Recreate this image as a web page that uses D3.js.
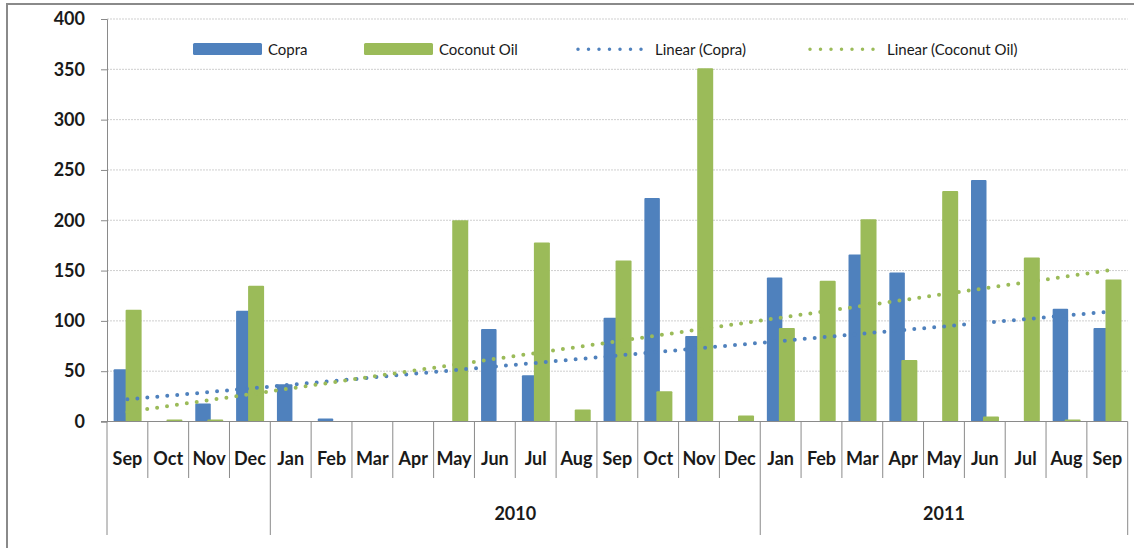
<!DOCTYPE html>
<html>
<head>
<meta charset="utf-8">
<script src="https://cdn.jsdelivr.net/npm/d3@7"></script>
<style>
  body { margin: 0; background: #fff; }
  text { font-family: Lato, "Open Sans", sans-serif; fill: #1a1a1a; }
</style>
</head>
<body>
<svg id="chart"></svg>
<script>
// months on the category axis, Sep 2009 .. Sep 2011
const months = ["Sep","Oct","Nov","Dec","Jan","Feb","Mar","Apr","May","Jun","Jul","Aug",
                "Sep","Oct","Nov","Dec","Jan","Feb","Mar","Apr","May","Jun","Jul","Aug","Sep"];
// year groups under the months
const yearLabels = ["", "2010", "2011"];
const yearSpans = [4, 12, 9];

const copra = [52,0,18,110,37,3,0,0,0,92,46,0,103,222,85,0,143,0,166,148,0,240,0,112,93];
const coconutOil = [111,2,2,135,0,0,0,0,200,0,178,12,160,30,351,6,93,140,201,61,229,5,163,2,141];

// linear trend lines: value at first and last month
const copraTrend = [22, 109];
const oilTrend = [9.5, 150];

const yTicks = [0, 50, 100, 150, 200, 250, 300, 350, 400];

const blue = "#4F81BD";
const green = "#9BBB59";

const width = 1134;
const height = 548;
const margin = { top: 19, right: 6.3, bottom: 126.5, left: 107 };

const svg = d3.select("#chart")
  .attr("width", width)
  .attr("height", height);

// outer frame
svg.append("path")
  .attr("d", `M7,${height + 5}V4H${width + 5}`)
  .attr("fill", "none")
  .attr("stroke", "#8a8a8a")
  .attr("stroke-width", 2);

const keys = months.map((m, i) => i);

const x = d3.scaleBand()
  .domain(keys)
  .range([margin.left, width - margin.right])
  .padding(0);

const y = d3.scaleLinear()
  .domain([0, 400])
  .range([height - margin.bottom, margin.top]);

const y0 = y(0);
const bw = x.bandwidth();

// gridlines
svg.append("g")
  .selectAll("line")
  .data(yTicks.slice(1))
  .join("line")
  .attr("x1", margin.left)
  .attr("x2", width - margin.right)
  .attr("y1", d => y(d))
  .attr("y2", d => y(d))
  .attr("stroke", "#cfcfcf")
  .attr("stroke-dasharray", "2 1");

// y axis
const yAxis = svg.append("g")
  .attr("transform", `translate(${margin.left},0)`)
  .call(d3.axisLeft(y).tickValues(yTicks).tickSize(6).tickPadding(16));
yAxis.select(".domain").attr("stroke", "#8a8a8a");
yAxis.selectAll(".tick line").attr("stroke", "#8a8a8a");
yAxis.selectAll(".tick text")
  .attr("font-size", 18)
  .attr("font-weight", 700)
  .attr("fill", "#1a1a1a");

// bars
const barW = 15.5;
const bars = svg.append("g");
bars.selectAll("rect.copra")
  .data(keys.filter(i => copra[i] > 0))
  .join("rect")
  .attr("class", "copra")
  .attr("x", i => x(i) + bw / 2 - 13.8)
  .attr("y", i => y(copra[i]))
  .attr("width", barW)
  .attr("height", i => y0 - y(copra[i]))
  .attr("rx", 1)
  .attr("fill", blue);

bars.selectAll("rect.oil")
  .data(keys.filter(i => coconutOil[i] > 0))
  .join("rect")
  .attr("class", "oil")
  .attr("x", i => x(i) + bw / 2 - 1.8)
  .attr("y", i => y(coconutOil[i]))
  .attr("width", barW + 0.5)
  .attr("height", i => y0 - y(coconutOil[i]))
  .attr("rx", 1)
  .attr("fill", green);

// x axis line and category separators
const axisG = svg.append("g").attr("stroke", "#8a8a8a").attr("stroke-width", 1);
axisG.append("line")
  .attr("x1", margin.left - 6).attr("x2", width - margin.right)
  .attr("y1", y0).attr("y2", y0);

const yearStarts = [];
let acc = 0;
yearSpans.forEach(s => { yearStarts.push(acc); acc += s; });

axisG.selectAll("line.sep")
  .data(d3.range(months.length + 1))
  .join("line")
  .attr("class", "sep")
  .attr("x1", i => i < months.length ? x(i) : x(months.length - 1) + bw)
  .attr("x2", i => i < months.length ? x(i) : x(months.length - 1) + bw)
  .attr("y1", y0)
  .attr("y2", i => (yearStarts.includes(i) || i === months.length) ? 535 : 478);

svg.append("g")
  .selectAll("text")
  .data(keys)
  .join("text")
  .attr("x", i => x(i) + bw / 2)
  .attr("y", 465)
  .attr("text-anchor", "middle")
  .attr("font-size", 18)
  .attr("font-weight", 700)
  .text(i => months[i]);

svg.append("g")
  .selectAll("text")
  .data(yearLabels.map((label, g) => ({ label, g })).filter(d => d.label))
  .join("text")
  .attr("x", d => {
    const s = yearStarts[d.g];
    const e = s + yearSpans[d.g] - 1;
    return (x(s) + x(e) + bw) / 2;
  })
  .attr("y", 520)
  .attr("text-anchor", "middle")
  .attr("font-size", 18)
  .attr("font-weight", 700)
  .text(d => d.label);

// trend lines
const first = 0, last = months.length - 1;
const trend = [
  { vals: copraTrend, color: blue },
  { vals: oilTrend, color: green }
];
svg.append("g")
  .selectAll("line")
  .data(trend)
  .join("line")
  .attr("x1", x(first) + bw / 2)
  .attr("x2", x(last) + bw / 2)
  .attr("y1", d => y(d.vals[0]))
  .attr("y2", d => y(d.vals[1]))
  .attr("stroke", d => d.color)
  .attr("stroke-width", 4)
  .attr("stroke-linecap", "round")
  .attr("stroke-dasharray", "0 10");

// legend
const legend = svg.append("g").attr("font-size", 15);
const legendItems = [
  { label: "Copra", color: blue, type: "bar", x: 193 },
  { label: "Coconut Oil", color: green, type: "bar", x: 364 },
  { label: "Linear (Copra)", color: blue, type: "dot", x: 578 },
  { label: "Linear (Coconut Oil)", color: green, type: "dot", x: 810 }
];
legendItems.forEach(d => {
  if (d.type === "bar") {
    legend.append("rect")
      .attr("x", d.x).attr("y", 43)
      .attr("width", 69).attr("height", 12)
      .attr("rx", 1.5)
      .attr("fill", d.color);
    legend.append("text")
      .attr("x", d.x + 75).attr("y", 54.5)
      .text(d.label);
  } else {
    legend.append("line")
      .attr("x1", d.x).attr("x2", d.x + 66)
      .attr("y1", 49.3).attr("y2", 49.3)
      .attr("stroke", d.color)
      .attr("stroke-width", 3.5)
      .attr("stroke-linecap", "round")
      .attr("stroke-dasharray", "0 10.5");
    legend.append("text")
      .attr("x", d.x + 77).attr("y", 54.5)
      .text(d.label);
  }
});
</script>
</body>
</html>
